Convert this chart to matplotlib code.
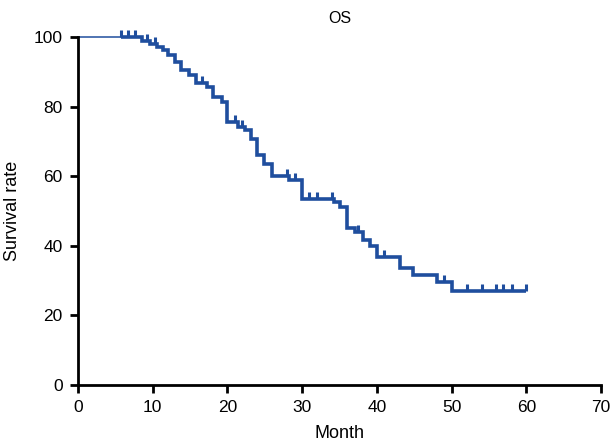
import matplotlib
matplotlib.use("Agg")
import matplotlib.pyplot as plt
import numpy as np

# Kaplan-Meier step data (time in months, survival % after the step)
event_times = [0, 8.5, 9.6, 10.6, 11.4, 12.0, 13.0, 13.8, 14.8, 15.8, 17.2, 18.1, 19.3,
               20.0, 21.4, 22.4, 23.1, 24.0, 24.9, 25.9, 28.3, 30.0, 34.2, 35.0, 36.0,
               37.1, 38.2, 39.1, 40.0, 43.1, 44.9, 48.1, 50.0]
survival = [100, 98.8, 98.0, 97.2, 96.2, 94.8, 92.8, 90.5, 89.0, 86.8, 85.6, 82.8, 81.3,
            75.5, 74.2, 73.2, 70.6, 66.2, 63.4, 60.1, 59.0, 53.5, 52.6, 51.2, 45.2,
            44.0, 41.6, 39.8, 36.9, 33.6, 31.7, 29.6, 27.0]
censor_times = [5.8, 6.7, 7.6, 9.3, 10.3, 16.6, 21.0, 21.9, 28.0, 29.0, 30.9, 32.0, 34.0,
                37.5, 41.0, 49.0, 52.1, 54.1, 55.9, 56.9, 58.1, 60.0]
end_time = 60.0

x_ticks = [0, 10, 20, 30, 40, 50, 60, 70]
y_ticks = [0, 20, 40, 60, 80, 100]

color = "#1F4E9E"
plt.rcParams['font.family'] = ['Liberation Sans', 'DejaVu Sans']

fig = plt.figure(figsize=(6.14, 4.48), dpi=100)
ax = fig.add_axes([78/614, 1-385/448, (601-78)/614, (385-37)/448])

# build step path
xs = []
ys = []
for i, (t, s) in enumerate(zip(event_times, survival)):
    if i > 0:
        xs.append(t); ys.append(survival[i-1])
    xs.append(t); ys.append(s)
xs.append(end_time); ys.append(survival[-1])
xs = np.array(xs); ys = np.array(ys)

first_cut = censor_times[0]
mask = xs >= first_cut
# thin initial segment
ax.plot([0, first_cut], [100, 100], color=color, lw=1.1, clip_on=False, solid_capstyle='butt')
ax.plot(np.r_[first_cut, xs[mask]], np.r_[100, ys[mask]], color=color, lw=2.6,
        clip_on=False, solid_joinstyle='miter', solid_capstyle='butt')

def surv_at(t):
    idx = np.searchsorted(event_times, t, side='right') - 1
    return survival[idx]

cy = [surv_at(t) for t in censor_times]
ax.vlines(censor_times, cy, np.array(cy) + 2.0, color=color, lw=2.2, clip_on=False)

ax.set_xlim(0, 70)
ax.set_ylim(0, 100)
ax.set_xticks(x_ticks)
ax.set_yticks(y_ticks)
for sp in ['top', 'right']:
    ax.spines[sp].set_visible(False)
for sp in ['left', 'bottom']:
    ax.spines[sp].set_linewidth(2)
ax.tick_params(axis='both', which='major', length=6, width=2, labelsize=12.5, pad=5)
ax.set_xlabel("Month", fontsize=13, labelpad=7)
ax.set_ylabel("Survival rate", fontsize=13, labelpad=9)
ax.set_title("OS", fontsize=11.5, pad=10)

fig.savefig("out.png", dpi=100)
